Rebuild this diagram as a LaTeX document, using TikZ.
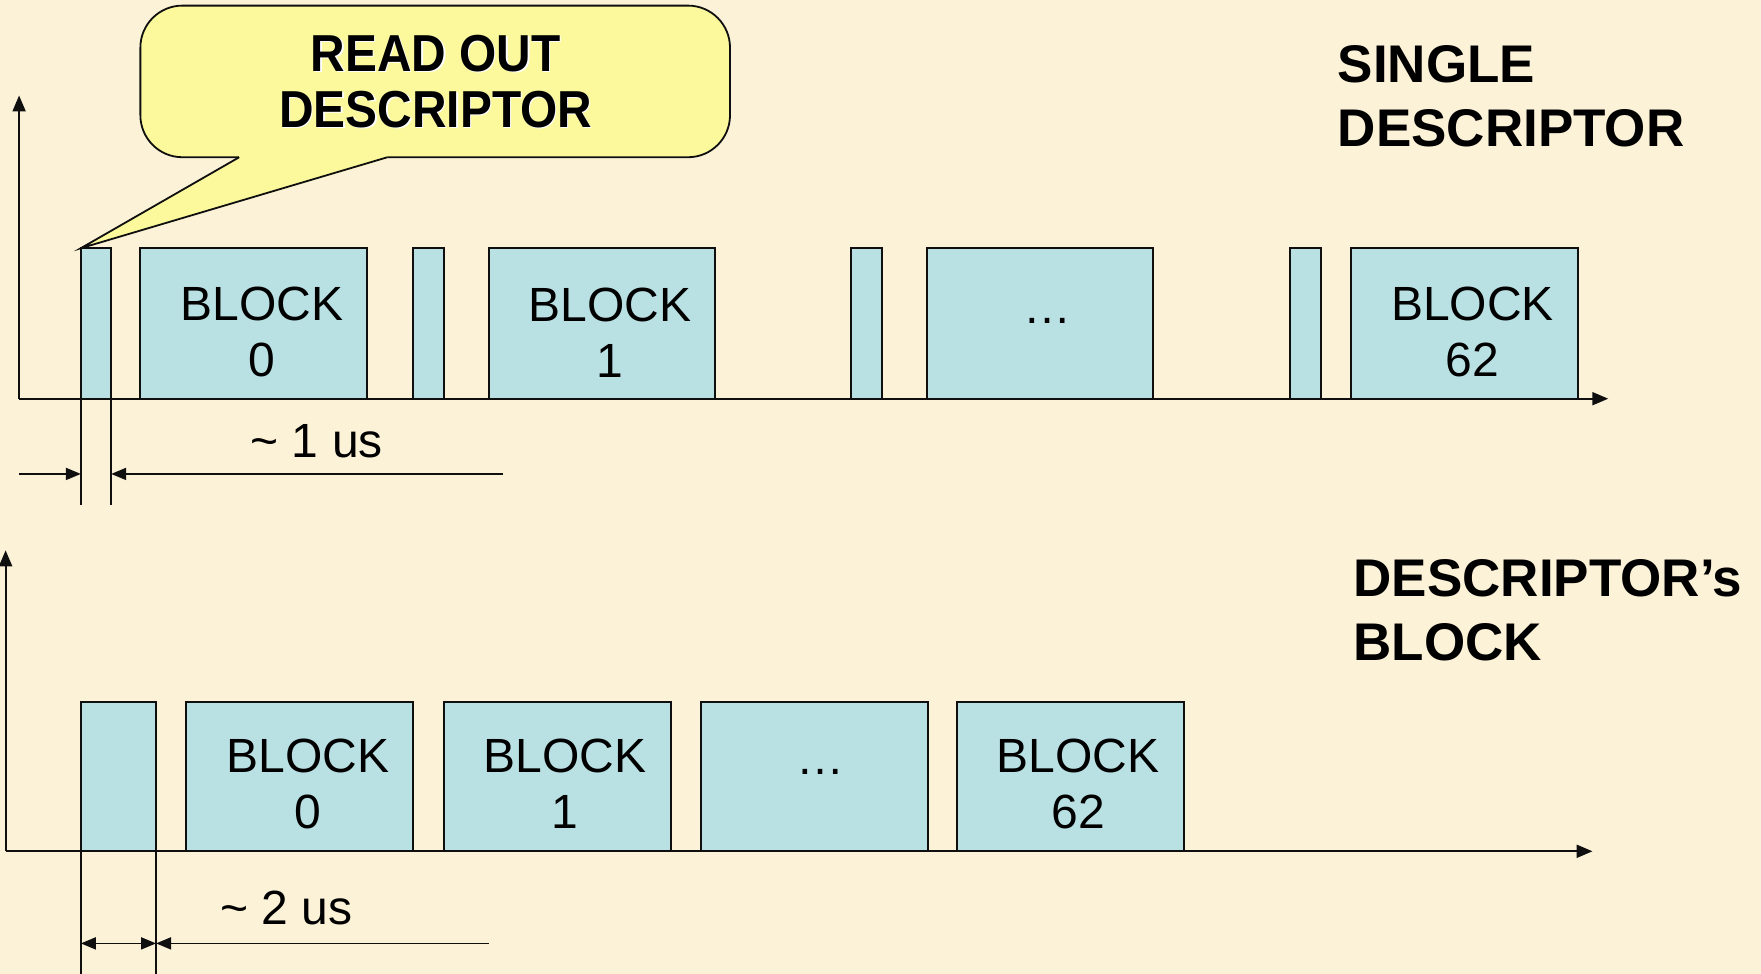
\documentclass[tikz,border=0pt]{standalone}
\usepackage{fontspec}
\setmainfont{Liberation Sans}
\newfontfamily\calloutfont[FakeStretch=0.92]{Liberation Sans}
\usetikzlibrary{arrows.meta}
\definecolor{paper}{RGB}{252,242,216}
\definecolor{blockc}{RGB}{185,224,227}
\definecolor{bubble}{RGB}{251,249,156}
\definecolor{linec}{RGB}{15,15,15}

\begin{document}
\begin{tikzpicture}[x=1.1231pt,y=-1.1231pt,
  ax/.style={line width=2pt, draw=linec, -{Triangle[length=16pt,width=13pt]}},
  dim/.style={line width=1.8pt, draw=linec},
  dimarr/.style={line width=1.8pt, draw=linec, -{Triangle[length=15pt,width=12pt]}},
  blk/.style={draw=linec, fill=blockc, line width=2pt, inner sep=0pt, outer sep=0pt, anchor=south west},
  tall/.style={minimum height=150.5pt},
  short/.style={minimum height=149.4pt},
  wide/.style={minimum width=226.9pt},
  slim/.style={minimum width=30.3pt},
  lbl/.style={font=\fontsize{48}{56}\selectfont, align=center, inner sep=0pt, text=black},
  title/.style={font=\fontsize{53}{64}\selectfont\bfseries, align=left, inner sep=0pt, anchor=north west, text=black}]

% page background
\fill[paper] (0,0) rectangle (1568,867);
\useasboundingbox (0,0) rectangle (1568,867);

% ---------- upper time line: one descriptor per block ----------
\coordinate (o1) at (17,355);
\coordinate (y1) at (17,85);
\coordinate (x1) at (1432,355);
\draw[ax] (o1) -- (y1);
\draw[ax] (o1) -- (x1);

\node[blk,tall,slim] (d0) at (72,355) {};
\node[blk,tall,wide] (b0) at (125,355) {};
\node[blk,tall,slim] (d1) at (368,355) {};
\node[blk,tall,wide] (b1) at (435,355) {};
\node[blk,tall,slim] (d2) at (758,355) {};
\node[blk,tall,wide] (bd) at (825,355) {};
\node[blk,tall,slim] (d3) at (1149,355) {};
\node[blk,tall,wide] (b62) at (1203,355) {};

\node[lbl] (tb0) at (233,296) {BLOCK\\0};
\node[lbl] (tb1) at (543,296) {BLOCK\\1};
\node[lbl,anchor=base] (tbd) at (933,288) {…};
\node[lbl] (tb62) at (1311,296) {BLOCK\\62};

% width of one descriptor read-out
\coordinate (r1) at (0,422);
\coordinate (r1end) at (448,422);
\coordinate (r1start) at (17,422);
\draw[dim] (d0.south west) -- ++(0,95);
\draw[dim] (d0.south east) -- ++(0,95);
\draw[dimarr] (r1start) -- (d0.south west |- r1);
\draw[dimarr] (r1end) -- (d0.south east |- r1);
\node[lbl,anchor=base] (m1) at (282,407) {\textasciitilde{} 1 us};

% speech bubble pointing at the first descriptor
\draw[line width=1.8pt, draw=linec, fill=bubble, rounded corners=42pt] (125,5) rectangle (650,140);
\fill[bubble] (213,141) -- (d0.north west) -- (345,141) -- (345,134) -- (213,134) -- cycle;
\draw[line width=1.8pt, draw=linec, line join=miter] (213,140) -- (d0.north west) -- (345,140);
\node[inner sep=0pt, anchor=north, align=center, text=white,
      font=\calloutfont\fontsize{52}{56}\selectfont\bfseries] (cs) at (389.2,32.2) {READ OUT\\DESCRIPTOR};
\node[inner sep=0pt, anchor=north, align=center, text=black,
      font=\calloutfont\fontsize{52}{56}\selectfont\bfseries] (ct) at (388,31) {READ OUT\\DESCRIPTOR};

\node[title] (t1) at (1191,40) {SINGLE\\DESCRIPTOR};

% ---------- lower time line: one descriptor block for all ----------
\coordinate (o2) at (5,758);
\coordinate (y2) at (5,490);
\coordinate (x2) at (1418,758);
\draw[ax] (o2) -- (y2);
\draw[ax] (o2) -- (x2);

\node[blk,short,minimum width=75.2pt] (e0) at (72,758) {};
\node[blk,short,wide] (c0) at (166,758) {};
\node[blk,short,wide] (c1) at (395,758) {};
\node[blk,short,wide] (cd) at (624,758) {};
\node[blk,short,wide] (c62) at (852,758) {};

\node[lbl] (tc0) at (274,698) {BLOCK\\0};
\node[lbl] (tc1) at (503,698) {BLOCK\\1};
\node[lbl,anchor=base] (tcd) at (731,690) {…};
\node[lbl] (tc62) at (960,698) {BLOCK\\62};

% width of the descriptor block read-out
\coordinate (v2top) at (0,731);
\coordinate (v2bot) at (0,867);
\coordinate (r2) at (0,840);
\coordinate (r2end) at (435,840);
\draw[dim] (e0.south west |- v2top) -- (e0.south west |- v2bot);
\draw[dim] (e0.south east |- v2top) -- (e0.south east |- v2bot);
\draw[dim, {Triangle[length=15pt,width=12pt]}-{Triangle[length=15pt,width=12pt]}]
  (e0.south west |- r2) -- (e0.south east |- r2);
\draw[dimarr] (r2end) -- (e0.south east |- r2);
\node[lbl,anchor=base] (m2) at (255,823) {\textasciitilde{} 2 us};

\node[title] (t2) at (1205,498) {DESCRIPTOR’s\\BLOCK};

\end{tikzpicture}
\end{document}
